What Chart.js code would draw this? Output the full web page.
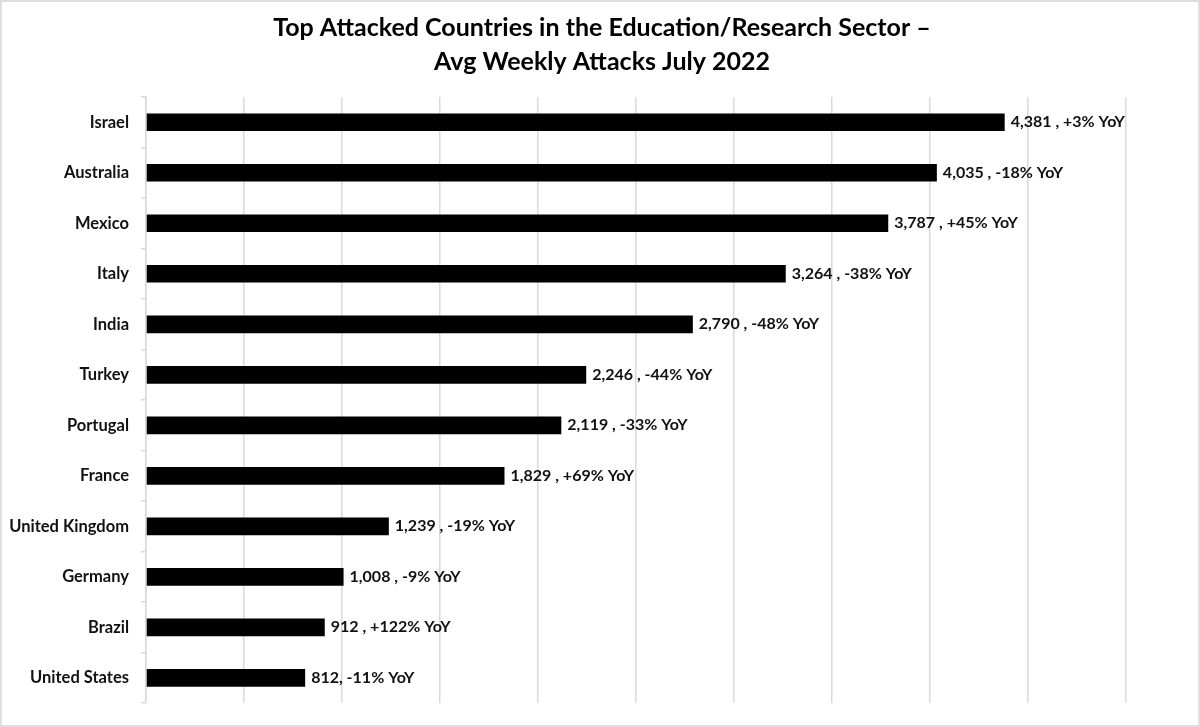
<!DOCTYPE html>
<html>
<head>
<meta charset="utf-8">
<title>Top Attacked Countries - Education/Research Sector</title>
<script src="https://cdn.jsdelivr.net/npm/chart.js@4/dist/chart.umd.min.js"></script>
<style>
  html, body { margin: 0; padding: 0; background: #fff; }
  #wrap {
    width: 1200px; height: 727px; box-sizing: border-box;
    border: 2px solid #dedede; position: relative;
  }
  canvas { display: block; }
</style>
</head>
<body>
<div id="wrap"><canvas id="barChart"></canvas></div>
<script>
// Chart data
const countries = ["Israel", "Australia", "Mexico", "Italy", "India", "Turkey", "Portugal",
  "France", "United Kingdom", "Germany", "Brazil", "United States"];
const weeklyAttacks = [4381, 4035, 3787, 3264, 2790, 2246, 2119, 1829, 1239, 1008, 912, 812];
const yoyChange = ["+3%", "-18%", "+45%", "-38%", "-48%", "-44%", "-33%", "+69%", "-19%", "-9%", "+122%", "-11%"];
const titleLines = ["Top Attacked Countries in the Education/Research Sector \u2013", "Avg Weekly Attacks July 2022"];

const fontFamily = "Lato, 'Open Sans', sans-serif";

// Title centred on the whole canvas (the built-in one centres on the padded box)
const pageTitle = {
  id: "pageTitle",
  afterDraw(chart) {
    const ctx = chart.ctx;
    ctx.save();
    ctx.font = "bold 25px " + fontFamily;
    ctx.fillStyle = "#000";
    ctx.textAlign = "center";
    ctx.textBaseline = "middle";
    titleLines.forEach((line, i) => {
      ctx.fillText(line, chart.width / 2 + 2, 26 + i * 34);
    });
    ctx.restore();
  },
};

// Draw "value , YoY" text at the end of each bar
const barLabels = {
  id: "barLabels",
  afterDatasetsDraw(chart) {
    const ctx = chart.ctx;
    const meta = chart.getDatasetMeta(0);
    ctx.save();
    ctx.font = "bold 16px " + fontFamily;
    ctx.fillStyle = "#111";
    ctx.textAlign = "left";
    ctx.textBaseline = "middle";
    meta.data.forEach((bar, i) => {
      const num = weeklyAttacks[i].toLocaleString("en-US");
      // the last label in the source has no space before the comma
      const sep = i === weeklyAttacks.length - 1 ? ", " : " , ";
      ctx.fillText(num + sep + yoyChange[i] + " YoY", bar.x + 6, bar.y);
    });
    ctx.restore();
  },
};

function initChart() {
  const ctx = document.getElementById("barChart").getContext("2d");
  new Chart(ctx, {
    type: "bar",
    data: {
      labels: countries,
      datasets: [
        {
          label: "Avg Weekly Attacks",
          data: weeklyAttacks,
          backgroundColor: "#000",
          borderWidth: 0,
          categoryPercentage: 1,
          barPercentage: 0.35,
        },
      ],
    },
    options: {
      indexAxis: "y",
      responsive: true,
      maintainAspectRatio: false,
      animation: false,
      layout: { padding: { left: 0, right: 72, top: 95, bottom: 17 } },
      plugins: {
        legend: { display: false },
        tooltip: { enabled: false },
        title: { display: false },
      },
      scales: {
        x: {
          min: 0,
          max: 5000,
          ticks: { display: false, stepSize: 500 },
          grid: { color: "#d9d9d9", lineWidth: 1.5, drawTicks: false },
          border: { display: false },
        },
        y: {
          afterFit(scale) { scale.width = 144; },
          ticks: {
            color: "#111",
            padding: 12,
            font: { family: fontFamily, size: 16.5, weight: "bold" },
          },
          grid: { drawOnChartArea: false, offset: true, tickLength: 5, color: "#d9d9d9", lineWidth: 1.5 },
          border: { display: true, color: "#d9d9d9", width: 1.5 },
        },
      },
    },
    plugins: [barLabels, pageTitle],
  });
}

document.addEventListener("DOMContentLoaded", initChart);
</script>
</body>
</html>
